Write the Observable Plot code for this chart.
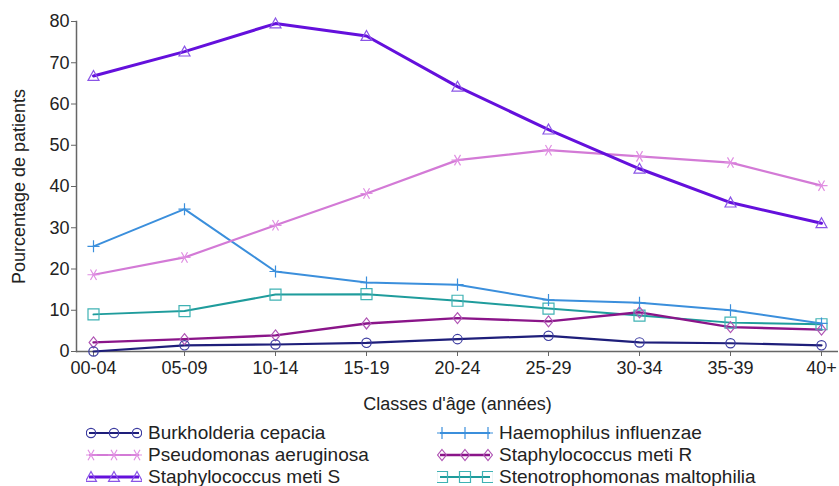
<!DOCTYPE html>
<html>
<head>
<meta charset="utf-8">
<script src="https://cdn.jsdelivr.net/npm/d3@7"></script>
<script src="https://cdn.jsdelivr.net/npm/@observablehq/plot@0.6"></script>
<style>
  html, body { margin: 0; padding: 0; background: #fff; }
  #wrap { position: relative; width: 839px; height: 486px; font-family: "Liberation Sans", Arial, sans-serif; color: #222; }
  #legend { position: absolute; left: 0; top: 0; width: 839px; height: 486px; pointer-events: none; }
  .item { position: absolute; display: flex; align-items: center; font-size: 19px; line-height: 22px; white-space: nowrap; }
  .item svg { margin-right: 6px; }
</style>
</head>
<body>
<div id="wrap"><div id="chart"></div><div id="legend"></div></div>
<script>
const ageClasses = ["00-04","05-09","10-14","15-19","20-24","25-29","30-34","35-39","40+"];
const yTicks = [0,10,20,30,40,50,60,70,80];

const seriesNames = [
  "Burkholderia cepacia",
  "Haemophilus influenzae",
  "Pseudomonas aeruginosa",
  "Staphylococcus meti R",
  "Staphylococcus meti S",
  "Stenotrophomonas maltophilia"
];

const burkholderia   = [0.0, 1.5, 1.7, 2.1, 3.0, 3.8, 2.2, 2.0, 1.5];
const haemophilus    = [25.5, 34.5, 19.4, 16.7, 16.2, 12.5, 11.8, 10.0, 6.8];
const pseudomonas    = [18.6, 22.8, 30.6, 38.3, 46.4, 48.8, 47.3, 45.8, 40.2];
const staphR         = [2.2, 3.0, 3.9, 6.8, 8.1, 7.3, 9.5, 5.9, 5.3];
const staphS         = [66.8, 72.7, 79.5, 76.5, 64.2, 53.8, 44.3, 36.1, 31.1];
const stenotrophomonas = [9.0, 9.8, 13.8, 13.9, 12.3, 10.4, 8.7, 7.0, 6.6];

const seriesValues = [burkholderia, haemophilus, pseudomonas, staphR, staphS, stenotrophomonas];

// custom hollow marker shapes
const sym = {
  circle:   {draw(c, s){ const r = Math.sqrt(s/Math.PI)*0.85; c.moveTo(r,0); c.arc(0,0,r,0,2*Math.PI); c.closePath(); }},
  triangle: {draw(c, s){ const r = Math.sqrt(s/Math.PI); c.moveTo(0,-r); c.lineTo(r,0.8*r); c.lineTo(-r,0.8*r); c.closePath(); }},
  square:   {draw(c, s){ const r = Math.sqrt(s/Math.PI); c.rect(-r,-r,2*r,2*r); }},
  diamond:  {draw(c, s){ const r = Math.sqrt(s/Math.PI); c.moveTo(0,-r); c.lineTo(0.8*r,0); c.lineTo(0,r); c.lineTo(-0.8*r,0); c.closePath(); }},
  plus:     {draw(c, s){ const r = Math.sqrt(s/Math.PI)*1.1; c.moveTo(-r,0); c.lineTo(r,0); c.moveTo(0,-r); c.lineTo(0,r); }},
  asterisk: {draw(c, s){ const r = Math.sqrt(s/Math.PI)*1.1;
    for (const a of [0, Math.PI/3, 2*Math.PI/3]) { const dx = r*Math.cos(a), dy = r*Math.sin(a); c.moveTo(-dx,-dy); c.lineTo(dx,dy); } }}
};

const styles = [
  {line: "#1e1e7a", mark: "#3c3ca0", sym: "circle",   w: 2.2},
  {line: "#3b8fdc", mark: "#3b8fdc", sym: "plus",     w: 2},
  {line: "#d37ad6", mark: "#e08fe2", sym: "asterisk", w: 2.2},
  {line: "#8a1589", mark: "#b055b4", sym: "diamond",  w: 2.4},
  {line: "#6410dc", mark: "#8a55e6", sym: "triangle", w: 3},
  {line: "#1f9c9c", mark: "#3fb2b4", sym: "square",   w: 2}
];

const rows = [];
seriesNames.forEach((name, i) => {
  ageClasses.forEach((a, j) => rows.push({series: name, age: a, value: seriesValues[i][j]}));
});

const drawOrder = [5, 3, 0, 1, 2, 4];
const marks = [];
for (const i of drawOrder) {
  const d = rows.filter(r => r.series === seriesNames[i]);
  marks.push(Plot.line(d, {x: "age", y: "value", stroke: styles[i].line, strokeWidth: styles[i].w}));
}
for (const i of drawOrder) {
  const d = rows.filter(r => r.series === seriesNames[i]);
  marks.push(Plot.dot(d, {x: "age", y: "value", stroke: styles[i].mark, strokeWidth: 1.2, fill: "none", r: 5.5, symbol: sym[styles[i].sym]}));
}

const chart = Plot.plot({
  width: 839,
  height: 420,
  marginLeft: 76,
  marginRight: 1,
  marginTop: 21,
  marginBottom: 69,
  style: {fontFamily: "'Liberation Sans', Arial, sans-serif", fontSize: "18px", color: "#222", background: "#fff"},
  x: {type: "point", domain: ageClasses, padding: 0.147},
  y: {domain: [0, 80]},
  marks: [
    Plot.axisY({ticks: yTicks, tickSize: 5, tickPadding: 2, fontSize: 18, label: "Pourcentage de patients", labelArrow: "none", labelAnchor: "center", labelOffset: 64, stroke: "#666"}),
    Plot.axisX({tickSize: 5, tickPadding: 5, fontSize: 18, label: "Classes d'âge (années)", labelArrow: "none", labelAnchor: "center", labelOffset: 58, stroke: "#666"}),
    Plot.frame({anchor: "left", stroke: "#666", strokeWidth: 1.5}),
    Plot.ruleY([0], {stroke: "#666", strokeWidth: 1.5}),
    ...marks
  ]
});
document.getElementById("chart").appendChild(chart);

// legend
const legend = d3.select("#legend");
const legendOrder = [0, 1, 2, 3, 4, 5];
const colX = [86, 437];
const rowY = [433, 455, 477];
legendOrder.forEach((i, k) => {
  const col = k % 2, row = Math.floor(k / 2);
  const item = legend.append("div").attr("class", "item")
    .style("left", colX[col] + "px").style("top", (rowY[row] - 11) + "px");
  const svg = item.append("svg").attr("width", 56).attr("height", 22);
  svg.append("line").attr("x1", 3).attr("x2", 53).attr("y1", 11).attr("y2", 11)
    .attr("stroke", styles[i].line).attr("stroke-width", styles[i].w);
  [5, 28, 51].forEach(x => {
    svg.append("path").attr("transform", `translate(${x},11)`)
      .attr("d", d3.symbol(sym[styles[i].sym], Math.PI * 5.5 * 5.5)())
      .attr("fill", "none").attr("stroke", styles[i].mark).attr("stroke-width", 1.2);
  });
  item.append("span").text(seriesNames[i]);
});
</script>
</body>
</html>
